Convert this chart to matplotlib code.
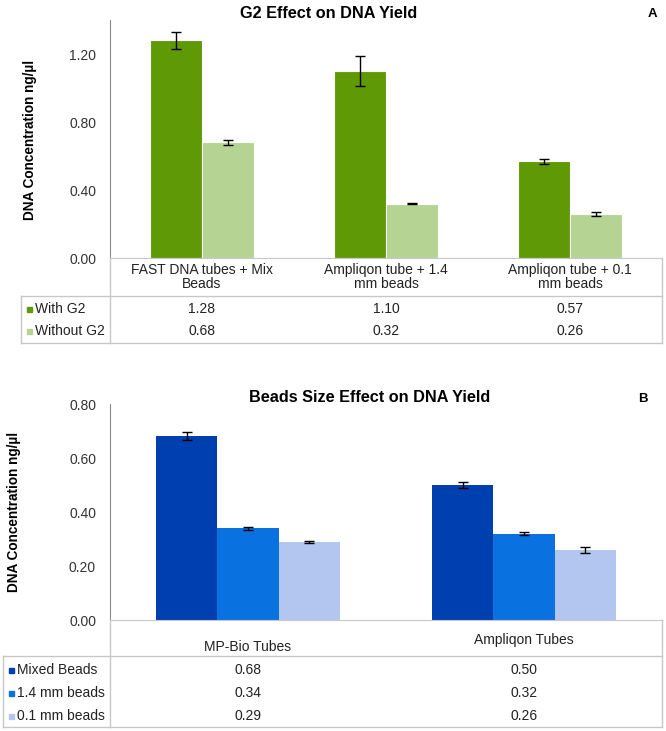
import matplotlib
matplotlib.use("Agg")
import matplotlib.pyplot as plt
import matplotlib.transforms as mtransforms
from matplotlib.lines import Line2D
from matplotlib.patches import Rectangle
import numpy as np

plt.rcParams["font.family"] = ["Liberation Sans", "DejaVu Sans"]

# ---- data: panel A (G2 effect) ----
a_categories = ["FAST DNA tubes + Mix\nBeads", "Ampliqon tube + 1.4\nmm beads",
                "Ampliqon tube + 0.1\nmm beads"]
a_series = ["With G2", "Without G2"]
a_with_g2 = [1.28, 1.10, 0.57]
a_without_g2 = [0.68, 0.32, 0.26]
a_err_with = [0.05, 0.09, 0.015]
a_err_without = [0.015, 0.005, 0.01]
a_colors = ["#5f9a06", "#b5d493"]

# ---- data: panel B (bead size effect) ----
b_categories = ["MP-Bio Tubes", "Ampliqon Tubes"]
b_series = ["Mixed Beads", "1.4 mm beads", "0.1 mm beads"]
b_mixed = [0.68, 0.50]
b_14mm = [0.34, 0.32]
b_01mm = [0.29, 0.26]
b_err_mixed = [0.015, 0.012]
b_err_14mm = [0.005, 0.006]
b_err_01mm = [0.003, 0.012]
b_colors = ["#003fb0", "#0a72e0", "#b3c6f0"]

W, H = 666, 731
fig = plt.figure(figsize=(W / 100, H / 100), dpi=100)
GRID = "#c8c8c8"
AXIS = "#8c8c8c"


def fx(px):
    return px / W


def fy(py):
    return 1 - py / H


def hline(x0, x1, y, color=GRID):
    fig.add_artist(Line2D([fx(x0), fx(x1)], [fy(y), fy(y)], color=color,
                          lw=1, transform=fig.transFigure))


def vline(x, y0, y1, color=GRID):
    fig.add_artist(Line2D([fx(x), fx(x)], [fy(y0), fy(y1)], color=color,
                          lw=1, transform=fig.transFigure))


def make_axes(top, bottom, ymax, yticks):
    ax = fig.add_axes([fx(110), fy(bottom), fx(662) - fx(110), fy(top) - fy(bottom)])
    ax.set_ylim(0, ymax)
    ax.set_yticks(yticks)
    ax.set_yticklabels([f"{t:.2f}" for t in yticks])
    ax.tick_params(axis="y", length=0, pad=10, labelsize=10, labelcolor="#333333")
    ax.set_xticks([])
    for s in ["top", "right"]:
        ax.spines[s].set_visible(False)
    ax.spines["left"].set_color(AXIS)
    ax.spines["bottom"].set_color(GRID)
    return ax


def draw_table(ax, axis_bottom, series, rows, colors, cat_y, cat_labels,
               row_ys, line_y, bottom_y, left_x, sq_x, txt_x):
    trans = mtransforms.blended_transform_factory(ax.transData, fig.transFigure)
    vline(110, bottom_y, axis_bottom)
    vline(662, bottom_y, axis_bottom)
    vline(left_x, line_y, bottom_y)
    hline(left_x, 662, line_y)
    hline(left_x, 662, bottom_y)
    for i, (lab, yy) in enumerate(zip(cat_labels, cat_y)):
        ax.text(i, fy(yy), lab, transform=trans, ha="center", va="center",
                fontsize=10, color="#222222", linespacing=1.05, clip_on=False)
    for name, vals, col, ry in zip(series, rows, colors, row_ys):
        fig.add_artist(Rectangle((fx(sq_x), fy(ry + 3)), fx(5), 5 / H,
                                 color=col, transform=fig.transFigure))
        fig.text(fx(txt_x), fy(ry), name, ha="left", va="center",
                 fontsize=10, color="#222222")
        for i, v in enumerate(vals):
            ax.text(i, fy(ry), f"{v:.2f}", transform=trans, ha="center",
                    va="center", fontsize=10, color="#222222", clip_on=False)


# ---- panel A ----
axA = make_axes(20, 258, 1.4, [0.0, 0.4, 0.8, 1.2])
xa = np.arange(len(a_categories))
axA.set_xlim(-0.5, len(a_categories) - 0.5)
wa = 0.28
for off, vals, errs, col in [(-wa / 2, a_with_g2, a_err_with, a_colors[0]),
                             (wa / 2, a_without_g2, a_err_without, a_colors[1])]:
    axA.bar(xa + off, vals, wa, color=col, edgecolor="white", linewidth=0.8,
            yerr=errs, capsize=3.5, error_kw=dict(elinewidth=1, capthick=1,
                                                  ecolor="black"))
draw_table(axA, 258, a_series, [a_with_g2, a_without_g2], a_colors,
           [277, 277, 277], a_categories, [309, 331], 296, 343, 21, 27, 35)
fig.text(fx(329), fy(13), "G2 Effect on DNA Yield", ha="center", va="center",
         fontsize=11.7, fontweight="bold")
fig.text(fx(652), fy(14), "A", ha="center", va="center", fontsize=9.5,
         fontweight="bold")
fig.text(fx(30), fy(140), "DNA Concentration ng/\u00b5l", rotation=90,
         ha="center", va="center", fontsize=9.8, fontweight="bold")

# ---- panel B ----
axB = make_axes(404, 620, 0.8, [0.0, 0.2, 0.4, 0.6, 0.8])
xb = np.arange(len(b_categories))
axB.set_xlim(-0.5, len(b_categories) - 0.5)
wb = 0.222
for off, vals, errs, col in [(-wb, b_mixed, b_err_mixed, b_colors[0]),
                             (0, b_14mm, b_err_14mm, b_colors[1]),
                             (wb, b_01mm, b_err_01mm, b_colors[2])]:
    axB.bar(xb + off, vals, wb, color=col, linewidth=0,
            yerr=errs, capsize=3.5, error_kw=dict(elinewidth=1, capthick=1,
                                                  ecolor="black"))
draw_table(axB, 620, b_series, [b_mixed, b_14mm, b_01mm], b_colors,
           [647, 640], b_categories, [670, 693, 716], 656, 727, 3, 9, 17)
fig.text(fx(370), fy(397), "Beads Size Effect on DNA Yield", ha="center",
         va="center", fontsize=11.7, fontweight="bold")
fig.text(fx(643), fy(399), "B", ha="center", va="center", fontsize=9.5,
         fontweight="bold")
fig.text(fx(14), fy(512), "DNA Concentration ng/\u00b5l", rotation=90,
         ha="center", va="center", fontsize=9.8, fontweight="bold")

fig.savefig("out.png", dpi=100)
